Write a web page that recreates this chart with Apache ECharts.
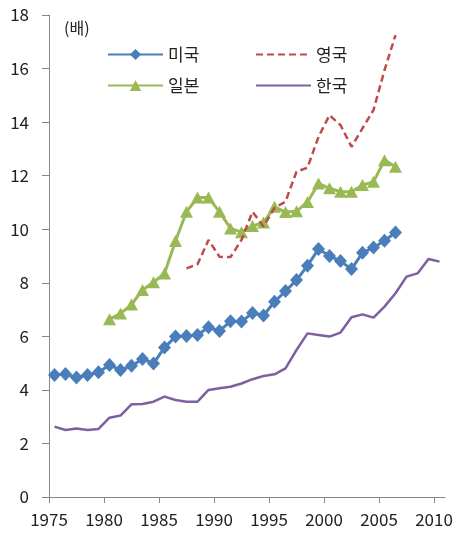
<!DOCTYPE html>
<html>
<head>
<meta charset="utf-8">
<script src="https://cdn.jsdelivr.net/npm/echarts@6/dist/echarts.min.js"></script>
<style>
  html, body { margin: 0; padding: 0; background: #fff; }
  #chart { width: 461px; height: 536px; }
</style>
</head>
<body>
<div id="chart"></div>
<script>
// Years 1975–2010, one value per year (null where a country has no data)
const years = [];
for (let y = 1975; y <= 2010; y++) years.push(String(y));

const yearTicks = [1975, 1980, 1985, 1990, 1995, 2000, 2005, 2010];

const usa = [4.56, 4.59, 4.46, 4.56, 4.66, 4.93, 4.74, 4.90, 5.15, 4.99,
             5.58, 5.99, 6.01, 6.05, 6.34, 6.20, 6.56, 6.55, 6.87, 6.78,
             7.29, 7.69, 8.10, 8.64, 9.26, 9.00, 8.81, 8.51, 9.12, 9.32,
             9.57, 9.88, null, null, null, null];

const uk = [null, null, null, null, null, null, null, null, null, null,
            null, null, 8.54, 8.69, 9.60, 8.97, 8.96, 9.60, 10.65, 10.10,
            10.80, 11.03, 12.15, 12.30, 13.45, 14.26, 13.89, 13.08, 13.77, 14.45,
            15.94, 17.25, null, null, null, null];

const japan = [null, null, null, null, null, 6.64, 6.85, 7.19, 7.73, 8.02,
               8.35, 9.56, 10.65, 11.18, 11.18, 10.65, 10.03, 9.89, 10.12, 10.25,
               10.84, 10.64, 10.67, 11.02, 11.71, 11.53, 11.40, 11.40, 11.65, 11.77,
               12.58, 12.33, null, null, null, null];

const korea = [2.63, 2.50, 2.56, 2.50, 2.54, 2.96, 3.04, 3.46, 3.47, 3.56,
               3.75, 3.62, 3.56, 3.56, 4.00, 4.06, 4.12, 4.24, 4.40, 4.52,
               4.58, 4.80, 5.49, 6.11, 6.05, 5.99, 6.14, 6.71, 6.82, 6.70,
               7.11, 7.61, 8.23, 8.35, 8.89, 8.79];

const FONT = '"Noto Sans CJK KR", "Noto Sans", sans-serif';
const AXIS = '#868686';

// line-only legend entries: hide the marker, keep the series line style
const lineOnly = name => ({ name, itemStyle: { opacity: 0 } });

const legendBase = {
  orient: 'vertical',
  top: 41,
  itemWidth: 55,
  itemHeight: 14,
  itemGap: 14,
  textStyle: { fontSize: 17, color: '#222', fontFamily: FONT }
};

const chart = echarts.init(document.getElementById('chart'), null, { renderer: 'canvas' });

chart.setOption({
  animation: false,
  backgroundColor: '#fff',
  textStyle: { fontFamily: FONT },
  grid: { left: 49, right: 16, top: 15, bottom: 39, containLabel: false },
  graphic: [{
    type: 'text',
    left: 64,
    top: 20,
    style: { text: '(배)', font: '16px ' + FONT, fill: '#222' }
  }],
  legend: [
    Object.assign({ data: ['미국', '일본'], left: 102 }, legendBase),
    Object.assign({ data: [lineOnly('영국'), lineOnly('한국')], left: 250 }, legendBase)
  ],
  xAxis: [
    {
      // per-year category positions used by the series
      type: 'category',
      data: years,
      boundaryGap: true,
      show: false
    },
    {
      // visible year scale with labels on the tick marks
      type: 'value',
      min: 1975,
      max: 2011,
      interval: 5,
      position: 'bottom',
      splitLine: { show: false },
      axisLine: { show: true, lineStyle: { color: AXIS, width: 1 } },
      axisTick: { show: true, length: 6, lineStyle: { color: AXIS }, customValues: yearTicks },
      axisLabel: {
        customValues: yearTicks,
        fontSize: 17,
        color: '#222',
        margin: 14,
        fontFamily: FONT,
        formatter: v => String(v)
      }
    }
  ],
  yAxis: {
    type: 'value',
    min: 0,
    max: 18,
    interval: 2,
    splitLine: { show: false },
    axisLine: { show: true, lineStyle: { color: AXIS, width: 1 } },
    axisTick: { show: true, length: 7, lineStyle: { color: AXIS } },
    axisLabel: { fontSize: 17, color: '#222', margin: 20, fontFamily: FONT }
  },
  series: [
    {
      name: '미국',
      type: 'line',
      xAxisIndex: 0,
      data: usa,
      symbol: 'diamond',
      symbolSize: [13, 14],
      showAllSymbol: true,
      itemStyle: { color: '#4A7EBB' },
      lineStyle: { color: '#4A7EBB', width: 3 },
      z: 4
    },
    {
      name: '영국',
      type: 'line',
      xAxisIndex: 0,
      data: uk,
      symbol: 'none',
      itemStyle: { color: '#BE4B48' },
      lineStyle: { color: '#BE4B48', width: 2.5, type: [7, 4] },
      z: 3
    },
    {
      name: '일본',
      type: 'line',
      xAxisIndex: 0,
      data: japan,
      symbol: 'triangle',
      symbolSize: [13, 12],
      showAllSymbol: true,
      itemStyle: { color: '#98B954' },
      lineStyle: { color: '#98B954', width: 3 },
      z: 2
    },
    {
      name: '한국',
      type: 'line',
      xAxisIndex: 0,
      data: korea,
      symbol: 'none',
      itemStyle: { color: '#7D60A0' },
      lineStyle: { color: '#7D60A0', width: 2.5 },
      z: 1
    }
  ]
});
</script>
</body>
</html>
